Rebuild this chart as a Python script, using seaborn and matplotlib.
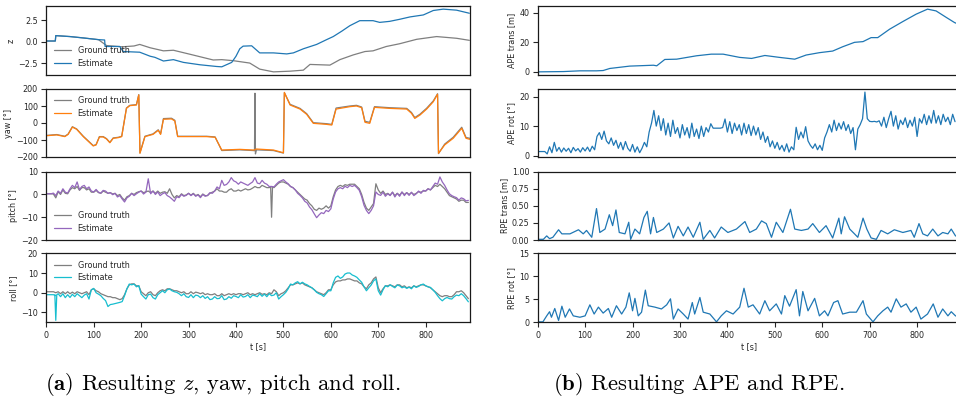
import numpy as np
import pandas as pd
import matplotlib
matplotlib.use("Agg")
import matplotlib.pyplot as plt
import seaborn as sns

# ---------------- data ----------------
z_est_t = [0, 19, 20, 50, 78, 110, 123, 124, 155, 162, 197, 219, 229, 247, 268, 289, 324, 359, 370, 391,
           400, 408, 415, 433, 450, 479, 507, 521, 542, 570, 591, 605, 623, 640, 661, 689, 703, 724, 745, 767,
           795, 816, 837, 865, 892]
z_est = [0.08, 0.08, 0.71, 0.6, 0.44, 0.24, 0.2, -0.56, -0.56, -1.15, -1.23, -1.7, -1.83, -2.26, -2.1, -2.42,
         -2.7, -2.9, -2.94, -2.42, -1.7, -0.83, -0.52, -0.48, -1.31, -1.31, -1.43, -1.31, -0.83, -0.32, 0.24,
         0.6, 1.23, 1.87, 2.46, 2.46, 2.26, 2.38, 2.62, 2.9, 3.13, 3.65, 3.81, 3.69, 3.33]
z_gt_t = [0, 19, 20, 50, 78, 110, 127, 160, 185, 197, 219, 247, 268, 303, 352, 370, 394, 429, 450, 479,
          514, 542, 556, 598, 619, 647, 672, 689, 717, 745, 781, 823, 865, 892]
z_gt = [0.08, 0.08, 0.71, 0.6, 0.44, 0.24, -0.45, -0.6, -0.5, -0.32, -0.71, -1.07, -1.0, -1.47, -2.14, -2.1,
        -2.22, -2.5, -3.21, -3.53, -3.45, -3.33, -2.66, -2.74, -2.1, -1.55, -1.15, -1.07, -0.56, -0.24, 0.28,
        0.6, 0.4, 0.16]

yaw_t = [0, 22, 39, 46, 55, 64, 78, 99, 105, 112, 120, 127, 134, 141, 152, 159, 169, 176, 190, 195, 197.5,
         208, 225, 236, 241, 247, 264, 271, 277, 303, 338, 356, 370, 408, 436, 439, 440, 441, 443, 479, 500,
         502, 514, 535, 549, 563, 591, 602, 611, 640, 654, 665, 672, 682, 692, 724, 760, 770, 777, 788, 802,
         816, 825, 827, 840, 858, 876, 885, 893]
yaw_est = [-75, -70, -80, -67, -24, -37, -80, -135, -129, -82, -82, -94, -116, -90, -86, -80, 86, 102, 106,
           165, -178, -80, -67, -43, -67, 22, 24, 12, -80, -80, -80, -84, -159, -155, -159, -158, -157, -156,
           -153, -159, -175, 180, 106, 82, 51, -2, -8, -12, 82, 96, 100, 90, 4, -2, 92, 86, 82, 57, 27, 47, 82,
           125, 169, -178, -129, -90, -31, -90, -96]
yaw_gt = [-73, -68, -78, -65, -22, -35, -78, -133, -127, -80, -80, -92, -114, -88, -84, -78, 88, 104, 108,
          167, -176, -78, -64, -40, -64, 26, 28, 16, -78, -78, -78, -82, -162, -158, -162, -163, 175, -182,
          -158, -162, -177, 178, 110, 86, 55, 2, -4, -8, 88, 100, 104, 94, 10, 4, 96, 90, 86, 62, 32, 52, 87,
          130, 172, -180, -124, -84, -25, -85, -90]

# pitch and roll sampled every 5 s (0 ... 890 s)
angle_t = list(range(0, 895, 5))
pitch_est = [
    0.3, 0.3, 0.3, 0.6, -0.5, 1.5, 0.5, 2.5, 1.0, 0.6,
    2.5, 4.0, 3.0, 5.5, 2.1, 3.5, 4.0, 2.5, 3.3, 1.5,
    1.1, 2.2, 1.0, 0.6, 1.8, 1.5, 0.5, 0.8, -0.1, 0.5,
    -1.1, -0.5, -2.0, -3.3, -1.5, -0.8, 0.5, -0.5, 0.3, 1.0,
    1.5, 0.2, 1.0, 6.9, 0.3, 1.5, 0.0, 1.1, -0.5, 0.3,
    0.8, -0.5, -1.1, -2.0, -3.0, -1.0, -1.4, 0.0, -0.8, -0.4,
    0.5, -0.5, 0.3, -0.8, -0.2, -1.4, 0.0, -0.8, -0.4, 0.8,
    0.5, 1.5, 3.3, 2.5, 6.2, 4.0, 4.4, 5.5, 7.4, 6.0,
    5.5, 4.5, 5.5, 5.0, 4.5, 4.0, 4.8, 5.5, 7.4, 5.0,
    4.7, 6.2, 5.0, 4.5, 3.5, 3.5, 3.3, 4.5, 5.5, 6.0,
    6.5, 5.5, 4.7, 3.5, 3.0, 2.0, 0.5, -0.4, -1.5, -3.0,
    -3.7, -5.5, -6.7, -8.5, -10.2, -9.0, -8.0, -8.4, -7.0, -7.5,
    -6.3, -2.0, 1.1, 2.5, 3.0, 2.5, 3.6, 3.0, 4.0, 3.5,
    4.0, 3.0, 1.8, -1.0, -4.8, -7.0, -8.4, -7.0, -5.0, 1.1,
    0.0, -0.4, 1.0, -0.8, 0.3, -0.5, 1.0, -1.1, 0.5, -0.8,
    1.1, -0.5, 0.8, -0.4, 1.0, -0.5, 0.3, 1.5, 0.5, 1.8,
    1.5, 2.5, 2.0, 3.5, 5.0, 4.5, 7.7, 5.5, 4.0, 2.0,
    0.3, -0.5, -1.0, -1.4, -2.5, -1.5, -1.9, -2.8, -2.6]
pitch_gt = [
    0.3, 0.3, 0.3, 0.2, -1.5, 1.2, 0.0, 2.0, 0.5, 0.3,
    2.0, 3.0, 2.5, 3.5, 1.8, 3.0, 3.0, 2.0, 2.5, 1.0,
    1.0, 1.8, 0.8, 0.5, 1.5, 1.0, 0.5, 0.8, 0.2, 0.5,
    -0.5, 0.0, -1.5, -2.5, -1.0, -0.5, 0.5, 0.0, 0.8, 1.2,
    1.5, 0.8, 1.2, 1.5, 0.8, 1.5, 0.5, 1.5, 0.5, 1.0,
    1.2, 0.5, 2.5, 0.0, -1.5, -0.5, -1.0, 0.3, -0.5, -0.2,
    0.5, -0.3, 0.5, -0.5, 0.0, -1.0, 0.2, -0.5, -0.5, 0.5,
    1.0, 1.5, 2.5, 1.5, 1.5, 1.0, 1.0, 2.0, 2.5, 1.5,
    1.5, 2.0, 1.5, 2.0, 2.5, 2.0, 2.2, 2.8, 3.5, 3.0,
    3.0, 4.0, 3.5, 3.0, 3.0, 3.5, 3.0, 4.0, 5.0, 5.5,
    5.5, 5.0, 4.5, 3.5, 3.0, 2.0, 1.0, 0.0, -1.0, -2.0,
    -2.5, -4.0, -5.0, -6.5, -7.0, -6.0, -6.5, -6.0, -5.0, -6.0,
    -5.0, -1.0, 2.0, 3.5, 4.0, 3.5, 4.3, 4.0, 4.5, 4.5,
    4.5, 3.5, 2.5, 0.0, -3.5, -6.0, -7.0, -5.5, -4.0, 4.7,
    2.0, 0.5, 1.5, 0.0, 0.5, -0.3, 1.0, -0.5, 0.5, -0.3,
    1.0, 0.0, 0.8, 0.0, 0.8, 0.0, 0.5, 1.2, 1.0, 1.5,
    1.5, 2.5, 2.0, 3.0, 4.0, 3.5, 4.5, 3.5, 2.5, 1.0,
    -0.5, -1.0, -1.5, -2.0, -3.0, -2.5, -2.5, -3.5, -3.5]
pitch_gt_spike_t = [473, 475, 477]
pitch_gt_spike = [3.5, -10.0, 3.5]

roll_est = [
    -1.0, -1.0, -1.0, -1.0, -1.5, -0.5, -2.0, -0.5, -2.5, -1.0,
    -2.4, -0.8, -2.0, -0.5, -1.5, -2.5, -1.2, -0.5, -3.2, 1.5,
    2.2, 0.0, -0.7, -1.5, -2.9, -4.0, -7.0, -6.0, -5.8, -5.5,
    -5.2, -4.9, -4.5, -1.5, 2.0, 4.4, 4.0, 4.4, 3.0, 3.6,
    -0.7, -2.0, -3.2, -1.0, -0.7, -2.5, -3.2, -1.0, 0.0, 1.0,
    0.0, 1.5, 1.9, 1.0, 0.5, 0.2, -0.5, -1.5, -0.5, -2.0,
    -2.4, -1.0, -2.5, -1.2, -1.5, -2.5, -1.5, -2.9, -2.0, -3.5,
    -3.2, -2.0, -3.0, -2.9, -1.5, -3.5, -3.2, -2.0, -2.8, -1.5,
    -1.9, -2.5, -1.0, -2.2, -1.9, -1.0, -2.5, -1.2, -1.5, -2.0,
    -0.5, -1.8, -0.7, -2.0, -0.5, -1.5, -1.2, 0.0, -3.2, -2.0,
    -1.0, 0.2, 2.0, 4.4, 4.0, 5.0, 5.6, 4.5, 5.3, 4.5,
    4.0, 3.2, 2.5, 1.5, 0.2, -0.5, -1.0, -1.9, -0.5, 1.0,
    1.0, 5.0, 7.8, 8.5, 7.3, 8.0, 9.5, 10.0, 10.0, 9.0,
    8.5, 7.8, 6.5, 5.3, 3.0, 1.0, 2.5, 3.9, 6.0, 7.0,
    1.0, -1.2, 1.5, 3.6, 3.0, 4.0, 3.2, 2.5, 3.9, 3.5,
    2.5, 3.0, 2.2, 2.8, 2.0, 3.5, 2.7, 3.2, 4.0, 4.4,
    3.5, 3.0, 2.7, 1.5, 0.2, -1.5, -3.0, -4.1, -3.0, -2.4,
    -3.0, -3.2, -2.0, -1.2, -1.5, -0.5, -1.5, -3.0, -4.6]
roll_gt = [
    0.5, 0.5, 0.5, 0.5, 0.0, 0.5, -0.5, 0.5, -0.5, 0.5,
    -0.5, 0.3, -0.5, 0.5, 0.0, -0.5, 0.0, 0.5, -1.0, 1.5,
    2.0, 1.0, 0.5, -0.5, -1.0, -1.5, -2.0, -2.0, -2.5, -2.5,
    -3.0, -3.5, -3.0, -1.0, 2.0, 4.0, 4.5, 4.5, 3.5, 3.5,
    0.5, -0.5, -1.5, 0.0, 0.5, -1.0, -1.5, 0.0, 1.0, 1.5,
    1.0, 2.0, 2.0, 1.5, 1.0, 1.0, 0.5, 0.0, 0.5, -0.5,
    -0.5, 0.5, -0.5, 0.3, 0.0, -0.5, 0.0, -1.0, -0.5, -1.0,
    -1.0, -0.5, -1.5, -1.5, -0.5, -1.5, -1.0, -0.5, -1.0, -0.5,
    -1.0, -0.5, -0.5, -1.0, -0.5, 0.0, -1.0, -0.5, -1.0, -0.5,
    0.0, -0.8, -0.5, -1.0, 0.0, -0.5, 1.5, 0.5, -1.5, -0.5,
    0.0, 1.0, 2.5, 4.0, 4.0, 4.5, 5.0, 4.5, 5.0, 4.0,
    3.5, 3.0, 2.5, 1.5, 0.5, 0.0, -0.5, -1.0, 0.0, 1.5,
    1.5, 4.0, 5.5, 6.0, 6.0, 6.5, 6.5, 7.0, 7.0, 6.5,
    6.0, 6.0, 5.0, 4.5, 3.0, 2.0, 4.0, 5.0, 7.0, 8.0,
    2.5, 0.0, 2.0, 3.5, 3.5, 4.0, 3.5, 3.0, 4.0, 4.0,
    3.0, 3.5, 2.5, 3.0, 2.5, 3.5, 3.0, 3.5, 4.0, 4.0,
    3.5, 3.0, 2.5, 1.5, 0.5, -0.5, -1.5, -2.0, -1.5, -1.5,
    -2.0, -2.0, -1.0, 0.5, 0.5, 1.0, 0.0, -1.5, -3.0]
roll_est_spike_t = [18, 20, 22]
roll_est_spike = [-1.0, -14.0, -1.5]

ape_trans_t = [0, 54, 89, 124, 138, 152, 194, 244, 251, 268, 293, 335, 366, 391, 426, 451, 479, 510, 542,
               566, 594, 622, 643, 668, 686, 703, 717, 742, 770, 798, 822, 840, 861, 879, 893]
ape_trans = [0, 0.2, 0.7, 0.7, 0.9, 2.3, 3.9, 4.5, 4.1, 8.4, 8.6, 10.9, 12, 12, 9.8, 9.1, 11.1, 9.8, 8.6,
             11.4, 13, 14.1, 17, 20, 20.5, 23.2, 23.2, 28.9, 34.1, 39.1, 42.5, 41.3, 37, 33.4, 31.5]

# APE rot sampled every 5 s (0 ... 880 s)
ape_rot_t = list(range(0, 885, 5))
ape_rot = [
    1.4, 1.4, 1.4, 1.4, 0.6, 3.0, 1.0, 4.5, 1.5, 2.8,
    1.2, 2.6, 1.5, 2.5, 1.0, 2.8, 1.6, 2.4, 1.2, 2.7,
    1.6, 2.9, 1.4, 3.2, 2.0, 6.5, 7.8, 5.5, 8.3, 5.0,
    4.0, 6.0, 3.5, 5.2, 2.5, 4.5, 2.0, 4.8, 2.5, 1.5,
    3.8, 1.2, 3.0, 1.0, 2.5, 4.5, 3.0, 8.0, 11.0, 15.3,
    10.0, 13.5, 8.5, 12.5, 7.0, 11.0, 6.5, 12.0, 7.5, 9.5,
    6.0, 10.5, 7.0, 9.5, 6.0, 11.0, 6.5, 9.0, 5.8, 10.0,
    6.5, 9.5, 8.0, 10.8, 9.3, 9.3, 9.3, 9.3, 9.5, 12.4,
    8.0, 11.5, 7.5, 11.0, 8.5, 10.5, 7.0, 11.0, 7.5, 10.5,
    6.8, 10.0, 7.0, 9.5, 5.5, 8.0, 4.5, 6.5, 3.0, 5.0,
    2.5, 4.5, 2.0, 3.5, 1.5, 4.0, 1.2, 3.0, 2.0, 9.6,
    5.5, 8.0, 6.0, 9.8, 5.0, 3.5, 2.5, 4.0, 2.0, 3.5,
    1.8, 6.0, 8.0, 10.5, 8.0, 12.0, 8.5, 11.0, 9.0, 11.5,
    8.5, 10.5, 7.5, 9.5, 2.0, 9.0, 10.5, 12.5, 21.5, 12.5,
    11.6, 11.5, 11.6, 11.4, 11.8, 10.0, 13.0, 9.5, 12.5, 15.0,
    10.0, 13.5, 9.0, 12.0, 10.5, 12.8, 9.5, 12.0, 10.0, 13.0,
    6.5, 12.5, 11.0, 14.0, 10.5, 13.5, 11.0, 15.3, 11.0, 13.5,
    10.5, 14.0, 11.5, 13.0, 10.5, 14.0, 11.5]

rpe_trans_t = [0, 12, 19, 25, 32, 44, 51, 68, 86, 96, 103, 114, 124, 131, 142, 151, 158, 165, 172, 184, 192,
               196, 205, 215, 224, 231, 238, 244, 251, 265, 277, 286, 296, 307, 317, 328, 342, 349, 363, 373,
               387, 401, 419, 437, 447, 461, 472, 482, 493, 503, 517, 533, 542, 556, 570, 580, 594, 608, 622,
               635, 640, 647, 658, 668, 675, 686, 694, 703, 714, 724, 738, 752, 770, 787, 794, 804, 812, 822,
               833, 844, 854, 865, 872, 881, 893]
rpe_trans = [0.01, 0.01, 0.06, 0.02, 0.04, 0.15, 0.09, 0.09, 0.15, 0.09, 0.14, 0.04, 0.46, 0.11, 0.16, 0.37,
             0.21, 0.44, 0.11, 0.09, 0.26, 0.01, 0.16, 0.09, 0.33, 0.42, 0.09, 0.33, 0.11, 0.16, 0.25, 0.03,
             0.2, 0.06, 0.19, 0.04, 0.26, 0.01, 0.14, 0.03, 0.19, 0.11, 0.16, 0.27, 0.11, 0.16, 0.28, 0.24,
             0.04, 0.26, 0.11, 0.45, 0.16, 0.14, 0.16, 0.24, 0.11, 0.21, 0.03, 0.32, 0.09, 0.34, 0.16, 0.09,
             0.04, 0.32, 0.16, 0.03, 0.01, 0.14, 0.09, 0.15, 0.11, 0.14, 0.04, 0.24, 0.09, 0.06, 0.16, 0.06,
             0.11, 0.09, 0.16, 0.06, 0.04]

rpe_rot_t = [0, 11, 19, 25, 29, 36, 44, 51, 58, 67, 75, 89, 100, 110, 119, 128, 138, 149, 156, 166, 177, 186,
             193, 200, 205, 212, 219, 227, 233, 247, 261, 272, 280, 286, 296, 307, 317, 326, 331, 342, 349,
             363, 377, 387, 398, 412, 426, 435, 444, 454, 468, 479, 489, 503, 514, 521, 531, 545, 552, 559,
             570, 584, 594, 605, 612, 624, 633, 643, 658, 672, 686, 693, 707, 717, 728, 738, 745, 756, 766,
             777, 787, 798, 808, 822, 834, 844, 854, 865, 872, 881, 893]
rpe_rot = [0.1, 0.1, 1.4, 2.3, 1.1, 3.0, 0.4, 3.5, 1.1, 2.9, 1.4, 1.1, 1.4, 3.8, 1.8, 3.3, 2.0, 3.0, 1.1, 3.6,
           1.8, 3.3, 6.4, 2.5, 5.2, 1.4, 2.2, 7.0, 3.6, 3.3, 2.9, 3.8, 5.1, 0.7, 2.9, 1.8, 0.7, 4.3, 1.8, 5.4,
           2.2, 1.8, 0.1, 1.4, 2.5, 1.8, 3.3, 7.4, 3.3, 3.8, 1.8, 4.7, 2.5, 4.0, 1.8, 5.8, 3.5, 7.1, 1.4, 6.7,
           2.5, 5.2, 1.4, 2.5, 1.4, 4.3, 4.7, 1.8, 2.2, 2.2, 4.7, 1.8, 0.1, 1.4, 2.5, 3.3, 2.2, 5.1, 3.3, 4.0,
           2.2, 3.3, 0.7, 1.8, 4.0, 1.1, 2.9, 1.4, 2.3, 1.4, 1.0]

x_ticks = [0, 100, 200, 300, 400, 500, 600, 700, 800]
labels_left = ["z", "yaw [°]", "pitch [°]", "roll [°]"]
labels_right = ["APE trans [m]", "APE rot [°]", "RPE trans [m]", "RPE rot [°]"]
caption_a = r"$\mathbf{(a)}$ Resulting $z$, yaw, pitch and roll."
caption_b = r"$\mathbf{(b)}$ Resulting APE and RPE."

# ---------------- style ----------------
FS = 5.8
sns.set_theme(style="ticks", rc={
    "font.size": FS, "axes.labelsize": FS, "xtick.labelsize": FS, "ytick.labelsize": FS,
    "legend.fontsize": FS, "axes.edgecolor": "0.1", "axes.linewidth": 0.9,
    "xtick.major.size": 3.5, "ytick.major.size": 3.5,
    "xtick.major.width": 0.8, "ytick.major.width": 0.8,
    "xtick.major.pad": 2.5, "ytick.major.pad": 2.5,
    "xtick.color": "0.15", "ytick.color": "0.15", "axes.labelcolor": "0.15",
    "mathtext.fontset": "cm",
})
plt.rcParams["font.family"] = ["DejaVu Sans"]

W, H = 956, 407
fig = plt.figure(figsize=(W / 100, H / 100), dpi=100)

rows = [(6, 75), (89, 157), (171.7, 240), (253.3, 322.3)]
XMAX = 893


def make_ax(x0px, row):
    top, bot = row
    return fig.add_axes([x0px / W, 1 - bot / H, 423.5 / W, (bot - top) / H])


GRAY = "#7f7f7f"
LW = 0.9
left_specs = [
    (z_gt_t, z_gt, z_est_t, z_est, "#1f77b4", "lower left", None),
    (yaw_t, yaw_gt, yaw_t, yaw_est, "#ff7f0e", "upper left", (-200, 200)),
    (angle_t, pitch_gt, angle_t, pitch_est, "#9467bd", "lower left", (-20, 10)),
    (angle_t, roll_gt, angle_t, roll_est, "#17becf", "upper left", (-15, 20)),
]
left_yticks = [[-2.5, 0.0, 2.5], [-200, -100, 0, 100, 200], [-20, -10, 0, 10], [-10, 0, 10, 20]]

for i, (gt_t, gt, es_t, es, col, loc, ylim) in enumerate(left_specs):
    ax = make_ax(46.3, rows[i])
    sns.lineplot(x=gt_t, y=gt, ax=ax, color=GRAY, lw=LW, label="Ground truth",
                 estimator=None, sort=False)
    if i == 2:
        sns.lineplot(x=pitch_gt_spike_t, y=pitch_gt_spike, ax=ax, color=GRAY, lw=LW,
                     estimator=None, sort=False, legend=False)
    sns.lineplot(x=es_t, y=es, ax=ax, color=col, lw=LW, label="Estimate",
                 estimator=None, sort=False)
    if i == 3:
        sns.lineplot(x=roll_est_spike_t, y=roll_est_spike, ax=ax, color=col, lw=LW,
                     estimator=None, sort=False, legend=False)
    ax.set_xlim(0, XMAX)
    if ylim is not None:
        ax.set_ylim(*ylim)
    ax.set_yticks(left_yticks[i])
    if i == 0:
        ax.set_yticklabels(["\u22122.5", "0.0", "2.5"])
    ax.set_ylabel(labels_left[i], labelpad=2)
    ax.legend(loc=loc, frameon=False, handlelength=2.2, handletextpad=0.8,
              borderaxespad=0.5, labelspacing=0.45)
    if i < 3:
        ax.set_xticks([])
        ax.set_xlabel("")
    else:
        ax.set_xticks(x_ticks)
        ax.set_xlabel("t [s]", labelpad=2)

right_specs = [
    (ape_trans_t, ape_trans, None, [0, 20, 40]),
    (ape_rot_t, ape_rot, None, [0, 10, 20]),
    (rpe_trans_t, rpe_trans, (0, 1), [0.0, 0.25, 0.5, 0.75, 1.0]),
    (rpe_rot_t, rpe_rot, (0, 15), [0, 5, 10, 15]),
]
for i, (t, v, ylim, yt) in enumerate(right_specs):
    ax = make_ax(537.7, rows[i])
    sns.lineplot(x=t, y=v, ax=ax, color="#1f77b4", lw=LW, estimator=None, sort=False)
    ax.set_xlim(0, XMAX)
    if ylim is not None:
        ax.set_ylim(*ylim)
    ax.set_yticks(yt)
    if i == 2:
        ax.set_yticklabels(["0.00", "0.25", "0.50", "0.75", "1.00"])
    ax.set_ylabel(labels_right[i], labelpad=2)
    if i < 3:
        ax.set_xticks([])
        ax.set_xlabel("")
    else:
        ax.set_xticks(x_ticks)
        ax.set_xlabel("t [s]", labelpad=2)

fig.text(45 / W, 1 - 390 / H, caption_a, family="cmr10", fontsize=16.3, ha="left", va="baseline",
         color="black")
fig.text(553 / W, 1 - 390 / H, caption_b, family="cmr10", fontsize=16.3, ha="left", va="baseline",
         color="black")

fig.savefig("out.png", dpi=100)
